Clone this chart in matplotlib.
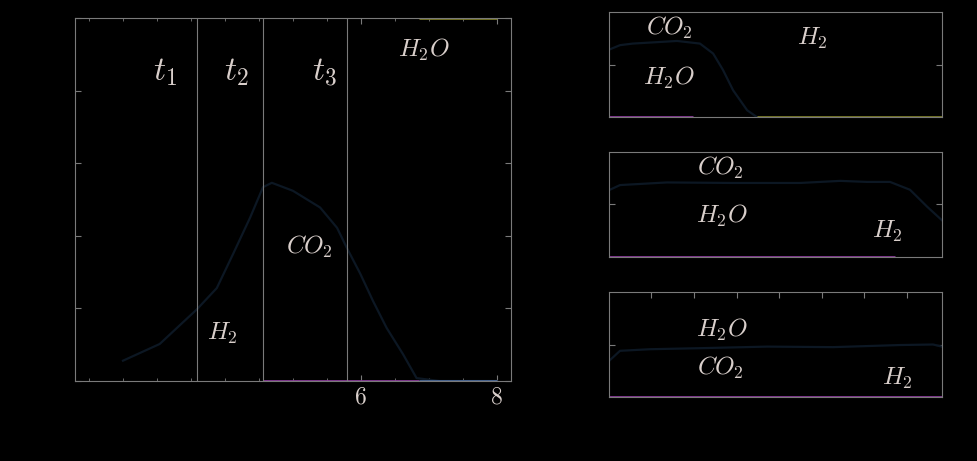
import matplotlib
matplotlib.use("Agg")
import matplotlib.pyplot as plt
from matplotlib.ticker import AutoMinorLocator

plt.rcParams['mathtext.fontset'] = 'cm'
plt.rcParams['font.family'] = ['DejaVu Serif']

# main panel: concentration profile
main_x = [2.50, 3.04, 3.59, 3.88, 4.12, 4.37, 4.56, 4.69, 5.00, 5.40, 5.65, 5.79,
          5.99, 6.18, 6.38, 6.62, 6.82, 7.16, 8.00]
main_y = [0.28, 0.51, 0.99, 1.28, 1.75, 2.25, 2.67, 2.73, 2.62, 2.39, 2.11, 1.84,
          1.48, 1.10, 0.73, 0.37, 0.04, 0.0, 0.0]
t_lines = [3.59, 4.56, 5.79]
t_labels = ['$t_1$', '$t_2$', '$t_3$']
t_label_x = [3.12, 4.16, 5.46]
magenta_span = [4.56, 6.85]
blue_span = [6.85, 8.0]
yellow_top = [6.85, 8.0]

# right panels
p1_x = [0.02, 0.26, 0.56, 1.60, 2.14, 2.45, 2.68, 2.92, 3.25, 3.48, 7.83]
p1_y = [1.29, 1.37, 1.40, 1.45, 1.40, 1.21, 0.90, 0.51, 0.13, 0.0, 0.0]
p2_x = [0.02, 0.26, 1.36, 2.92, 4.49, 5.44, 6.07, 6.61, 7.08, 7.48, 7.83]
p2_y = [1.28, 1.37, 1.42, 1.41, 1.41, 1.45, 1.43, 1.43, 1.28, 0.96, 0.70]
p3_x = [0.02, 0.26, 0.96, 2.14, 3.72, 5.27, 6.85, 7.62, 7.83]
p3_y = [0.70, 0.88, 0.91, 0.93, 0.96, 0.95, 0.99, 1.00, 0.96]

BG = 'black'
AX = '#7a7a7a'
TXT = '#d9cfcb'
CURVE = '#0c1723'
MAG = '#8a3a9a'
BLUE = '#4a6a9a'
OLIVE = '#7a7a22'

fig = plt.figure(figsize=(9.77, 4.61), dpi=100, facecolor=BG)


def style(ax, top=True):
    ax.set_facecolor(BG)
    for s in ax.spines.values():
        s.set_color(AX)
        s.set_linewidth(0.8)
    ax.tick_params(which='both', direction='in', colors=AX, top=top, right=True,
                   labelcolor=TXT)
    ax.tick_params(which='major', length=4)
    ax.tick_params(which='minor', length=2)


ax = fig.add_axes([0.0768, 0.1735, 0.446, 0.7875])
style(ax)
ax.set_xlim(1.794, 8.206)
ax.set_ylim(0, 5)
ax.plot(main_x, main_y, color=CURVE, lw=1.6)
ax.plot(magenta_span, [0, 0], color=MAG, lw=2, solid_capstyle='butt')
ax.plot(blue_span, [0, 0], color=BLUE, lw=2, solid_capstyle='butt')
ax.plot(yellow_top, [5, 5], color=OLIVE, lw=2, solid_capstyle='butt')
for xv in t_lines:
    ax.axvline(xv, color=AX, lw=0.8)
for xv, lab in zip(t_label_x, t_labels):
    ax.text(xv, 4.25, lab, color=TXT, fontsize=24, ha='center', va='center')
ax.text(6.93, 4.56, '$H_2O$', color=TXT, fontsize=18, ha='center', va='center')
ax.text(5.24, 1.85, '$CO_2$', color=TXT, fontsize=18, ha='center', va='center')
ax.text(3.96, 0.65, '$H_2$', color=TXT, fontsize=18, ha='center', va='center')
ax.set_xticks([6, 8])
ax.set_xticklabels(['$6$', '$8$'], fontsize=17)
ax.xaxis.set_minor_locator(AutoMinorLocator(4))
ax.set_yticks(range(6))
ax.set_yticklabels([])

panels = [
    (0.746, False, p1_x, p1_y, [(0.0, 1.98, MAG), (3.48, 7.83, OLIVE)],
     [('$CO_2$', 1.41, 1.70), ('$H_2$', 4.78, 1.50), ('$H_2O$', 1.41, 0.74)]),
    (0.4425, False, p2_x, p2_y, [(0.0, 6.73, MAG)],
     [('$CO_2$', 2.61, 1.70), ('$H_2O$', 2.66, 0.78), ('$H_2$', 6.54, 0.48)]),
    (0.1388, True, p3_x, p3_y, [(0.0, 7.83, MAG)],
     [('$H_2O$', 2.66, 1.28), ('$CO_2$', 2.61, 0.55), ('$H_2$', 6.79, 0.36)]),
]
for bottom, top, px, py, spans, labels in panels:
    pa = fig.add_axes([0.6233, bottom, 0.3408, 0.2278])
    style(pa, top=top)
    pa.set_xlim(0, 7.83)
    pa.set_ylim(0, 2)
    pa.plot(px, py, color=CURVE, lw=1.6)
    for x0, x1, c in spans:
        pa.plot([x0, x1], [0, 0], color=c, lw=2, solid_capstyle='butt')
    for lab, lx, ly in labels:
        pa.text(lx, ly, lab, color=TXT, fontsize=18, ha='center', va='center')
    pa.set_xticks(range(1, 8))
    pa.tick_params(axis='x', bottom=False)
    pa.set_xticklabels([])
    pa.set_yticks([1])
    pa.set_yticklabels([])

fig.savefig('out.png', dpi=100, facecolor=BG)
